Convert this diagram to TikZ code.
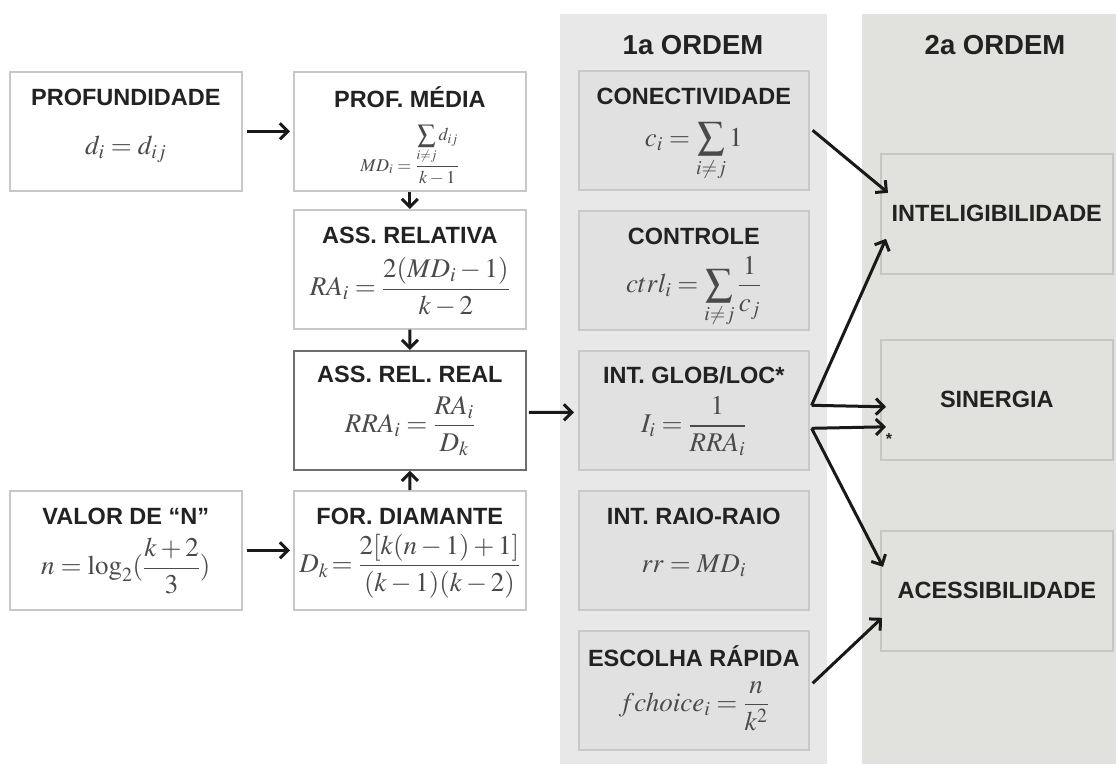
\documentclass[tikz,border=0pt]{standalone}
\usepackage{amsmath}
\usepackage{mathptmx}
\usepackage[no-math]{fontspec}
\newfontfamily\hfont{Liberation Sans}
\usetikzlibrary{arrows.meta,calc}

\definecolor{colA}{HTML}{E8E8E8}
\definecolor{colB}{HTML}{E1E1DE}
\definecolor{boxline}{HTML}{C8C8C8}
\definecolor{boxlineA}{HTML}{C8C8C8}
\definecolor{boxlineB}{HTML}{C6C6C2}
\definecolor{realline}{HTML}{6E6E6E}
\definecolor{ink}{HTML}{222222}
\definecolor{mathink}{HTML}{4A4A4A}

\begin{document}
\begin{tikzpicture}[x=1pt,y=-1pt,
  box/.style={draw=boxline, line width=1.6pt, fill=white, minimum width=232pt,
    minimum height=119pt, inner sep=0pt, anchor=north west},
  boxA/.style={box, draw=boxlineA, fill=colA!97!black, minimum width=230pt, minimum height=119pt},
  boxB/.style={box, draw=boxlineB, fill=colB, minimum width=232pt, minimum height=120pt},
  ttl/.style={font=\hfont\bfseries\fontsize{23.5}{27}\selectfont, text=ink, inner sep=0pt},
  hdr/.style={font=\hfont\bfseries\fontsize{27.5}{30}\selectfont, text=ink, inner sep=0pt},
  fml/.style={font=\fontsize{27}{30}\selectfont, text=mathink, inner sep=0pt},
  fmls/.style={font=\fontsize{18}{22}\selectfont, text=mathink, inner sep=0pt},
  arr/.style={draw=black!90, line width=3pt,
    -{Straight Barb[length=8pt,width=16pt,line width=3pt]}}
]
\useasboundingbox (0,0) rectangle (1116,764);

% column backgrounds
\fill[colA] (560,14) rectangle (827,764);
\fill[colB] (862,14) rectangle (1116,764);
\node[hdr] (h1) at (693,45) {1a ORDEM};
\node[hdr] (h2) at (995,45) {2a ORDEM};

% left part: depth chain
\node[box] (pf) at (9,71) {};
\node[ttl] (pfT) at ($(pf.north)+(0,26)$) {PROFUNDIDADE};
\node[fml] (pfF) at ($(pf.north)+(0,78)$) {$d_i = d_{ij}$};

\node[box] (pm) at (293,71) {};
\node[ttl] (pmT) at ($(pm.north)+(0,26)$) {PROF. MÉDIA};
\node[fmls] (pmF) at ($(pm.north)+(0,84)$) {$MD_i = \dfrac{\displaystyle\sum_{i\neq j} d_{ij}}{k-1}$};

\node[box] (ar) at (293,209) {};
\node[ttl] (arT) at ($(ar.north)+(0,26)$) {ASS. RELATIVA};
\node[fml] (arF) at ($(ar.north)+(0,78)$) {$RA_i = \dfrac{2(MD_i-1)}{k-2}$};

\node[box, draw=realline, line width=1.8pt] (rr) at (293,350) {};
\node[ttl] (rrT) at ($(rr.north)+(0,24)$) {ASS. REL. REAL};
\node[fml] (rrF) at ($(rr.north)+(0,76)$) {$RRA_i = \dfrac{RA_i}{D_k}$};

\node[box] (vn) at (9,490) {};
\node[ttl] (vnT) at ($(vn.north)+(0,26)$) {VALOR DE “N”};
\node[fml] (vnF) at ($(vn.north)+(0,76)$) {$n = \log_2(\dfrac{k+2}{3})$};

\node[box] (fd) at (293,490) {};
\node[ttl] (fdT) at ($(fd.north)+(0,26)$) {FOR. DIAMANTE};
\node[fml] (fdF) at ($(fd.north)+(0,76)$) {$D_k\!=\dfrac{2[k(n-1)+1]}{(k-1)(k-2)}$};

% first order measures
\node[boxA] (con) at (578,70) {};
\node[ttl] (conT) at ($(con.north)+(0,26)$) {CONECTIVIDADE};
\node[fml] (conF) at ($(con.north)+(0,82)$) {$c_i = \displaystyle\sum_{i\neq j} 1$};

\node[boxA] (ctl) at (578,210) {};
\node[ttl] (ctlT) at ($(ctl.north)+(0,26)$) {CONTROLE};
\node[fml] (ctlF) at ($(ctl.north)+(0,82)$) {$ctrl_i = \displaystyle\sum_{i\neq j}\frac{1}{c_j}$};

\node[boxA] (glb) at (578,350) {};
\node[ttl] (glbT) at ($(glb.north)+(0,25)$) {INT. GLOB/LOC*};
\node[fml] (glbF) at ($(glb.north)+(0,76)$) {$I_i = \dfrac{1}{RRA_i}$};

\node[boxA] (rai) at (578,490) {};
\node[ttl] (raiT) at ($(rai.north)+(0,26)$) {INT. RAIO-RAIO};
\node[fml] (raiF) at ($(rai.north)+(0,76)$) {$rr = MD_i$};

\node[boxA] (esc) at (578,630) {};
\node[ttl] (escT) at ($(esc.north)+(0,26)$) {ESCOLHA RÁPIDA};
\node[fml] (escF) at ($(esc.north)+(0,76)$) {$fchoice_i = \dfrac{n}{k^2}$};

% second order measures
\node[boxB] (itl) at (880,153) {};
\node[ttl] (itlT) at (itl.center) {INTELIGIBILIDADE};
\node[boxB] (sin) at (880,339) {};
\node[ttl] (sinT) at (sin.center) {SINERGIA};
\node[boxB] (acc) at (880,530) {};
\node[ttl] (accT) at (acc.center) {ACESSIBILIDADE};

% connectors, left part
\draw[arr] ([xshift=4pt]pf.east) -- ([xshift=-3pt]pm.west);
\draw[arr] (pm.south) -- (ar.north);
\draw[arr] (ar.south) -- (rr.north);
\draw[arr] (fd.north) -- (rr.south);
\draw[arr] ([xshift=4pt]vn.east) -- ([xshift=-3pt]fd.west);
\draw[arr] ([xshift=2pt,yshift=-2pt]rr.east) -- ([xshift=-4pt,yshift=-2pt]glb.west);

% connectors into second order
\coordinate (gA) at ($(glb.east)+(2,-5)$);
\coordinate (gB) at ($(glb.east)+(2,18)$);
\draw[arr] ($(con.east)+(3,0)$) -- ($(itl.west)+(8,-21)$);
\draw[arr] (gA) -- ($(itl.west)+(6,25)$);
\draw[arr] (gA) -- ($(sin.west)+(6,7)$);
\draw[arr] (gB) -- ($(sin.west)+(6,27)$);
\draw[arr] (gB) -- ($(acc.west)+(3,-24)$);
\draw[arr] ($(esc.east)+(3,-7)$) -- ($(acc.west)+(2,27)$);
\node[font=\hfont\bfseries\fontsize{16}{16}\selectfont, text=ink, inner sep=0pt] (ast) at (889,439) {*};
\end{tikzpicture}
\end{document}
